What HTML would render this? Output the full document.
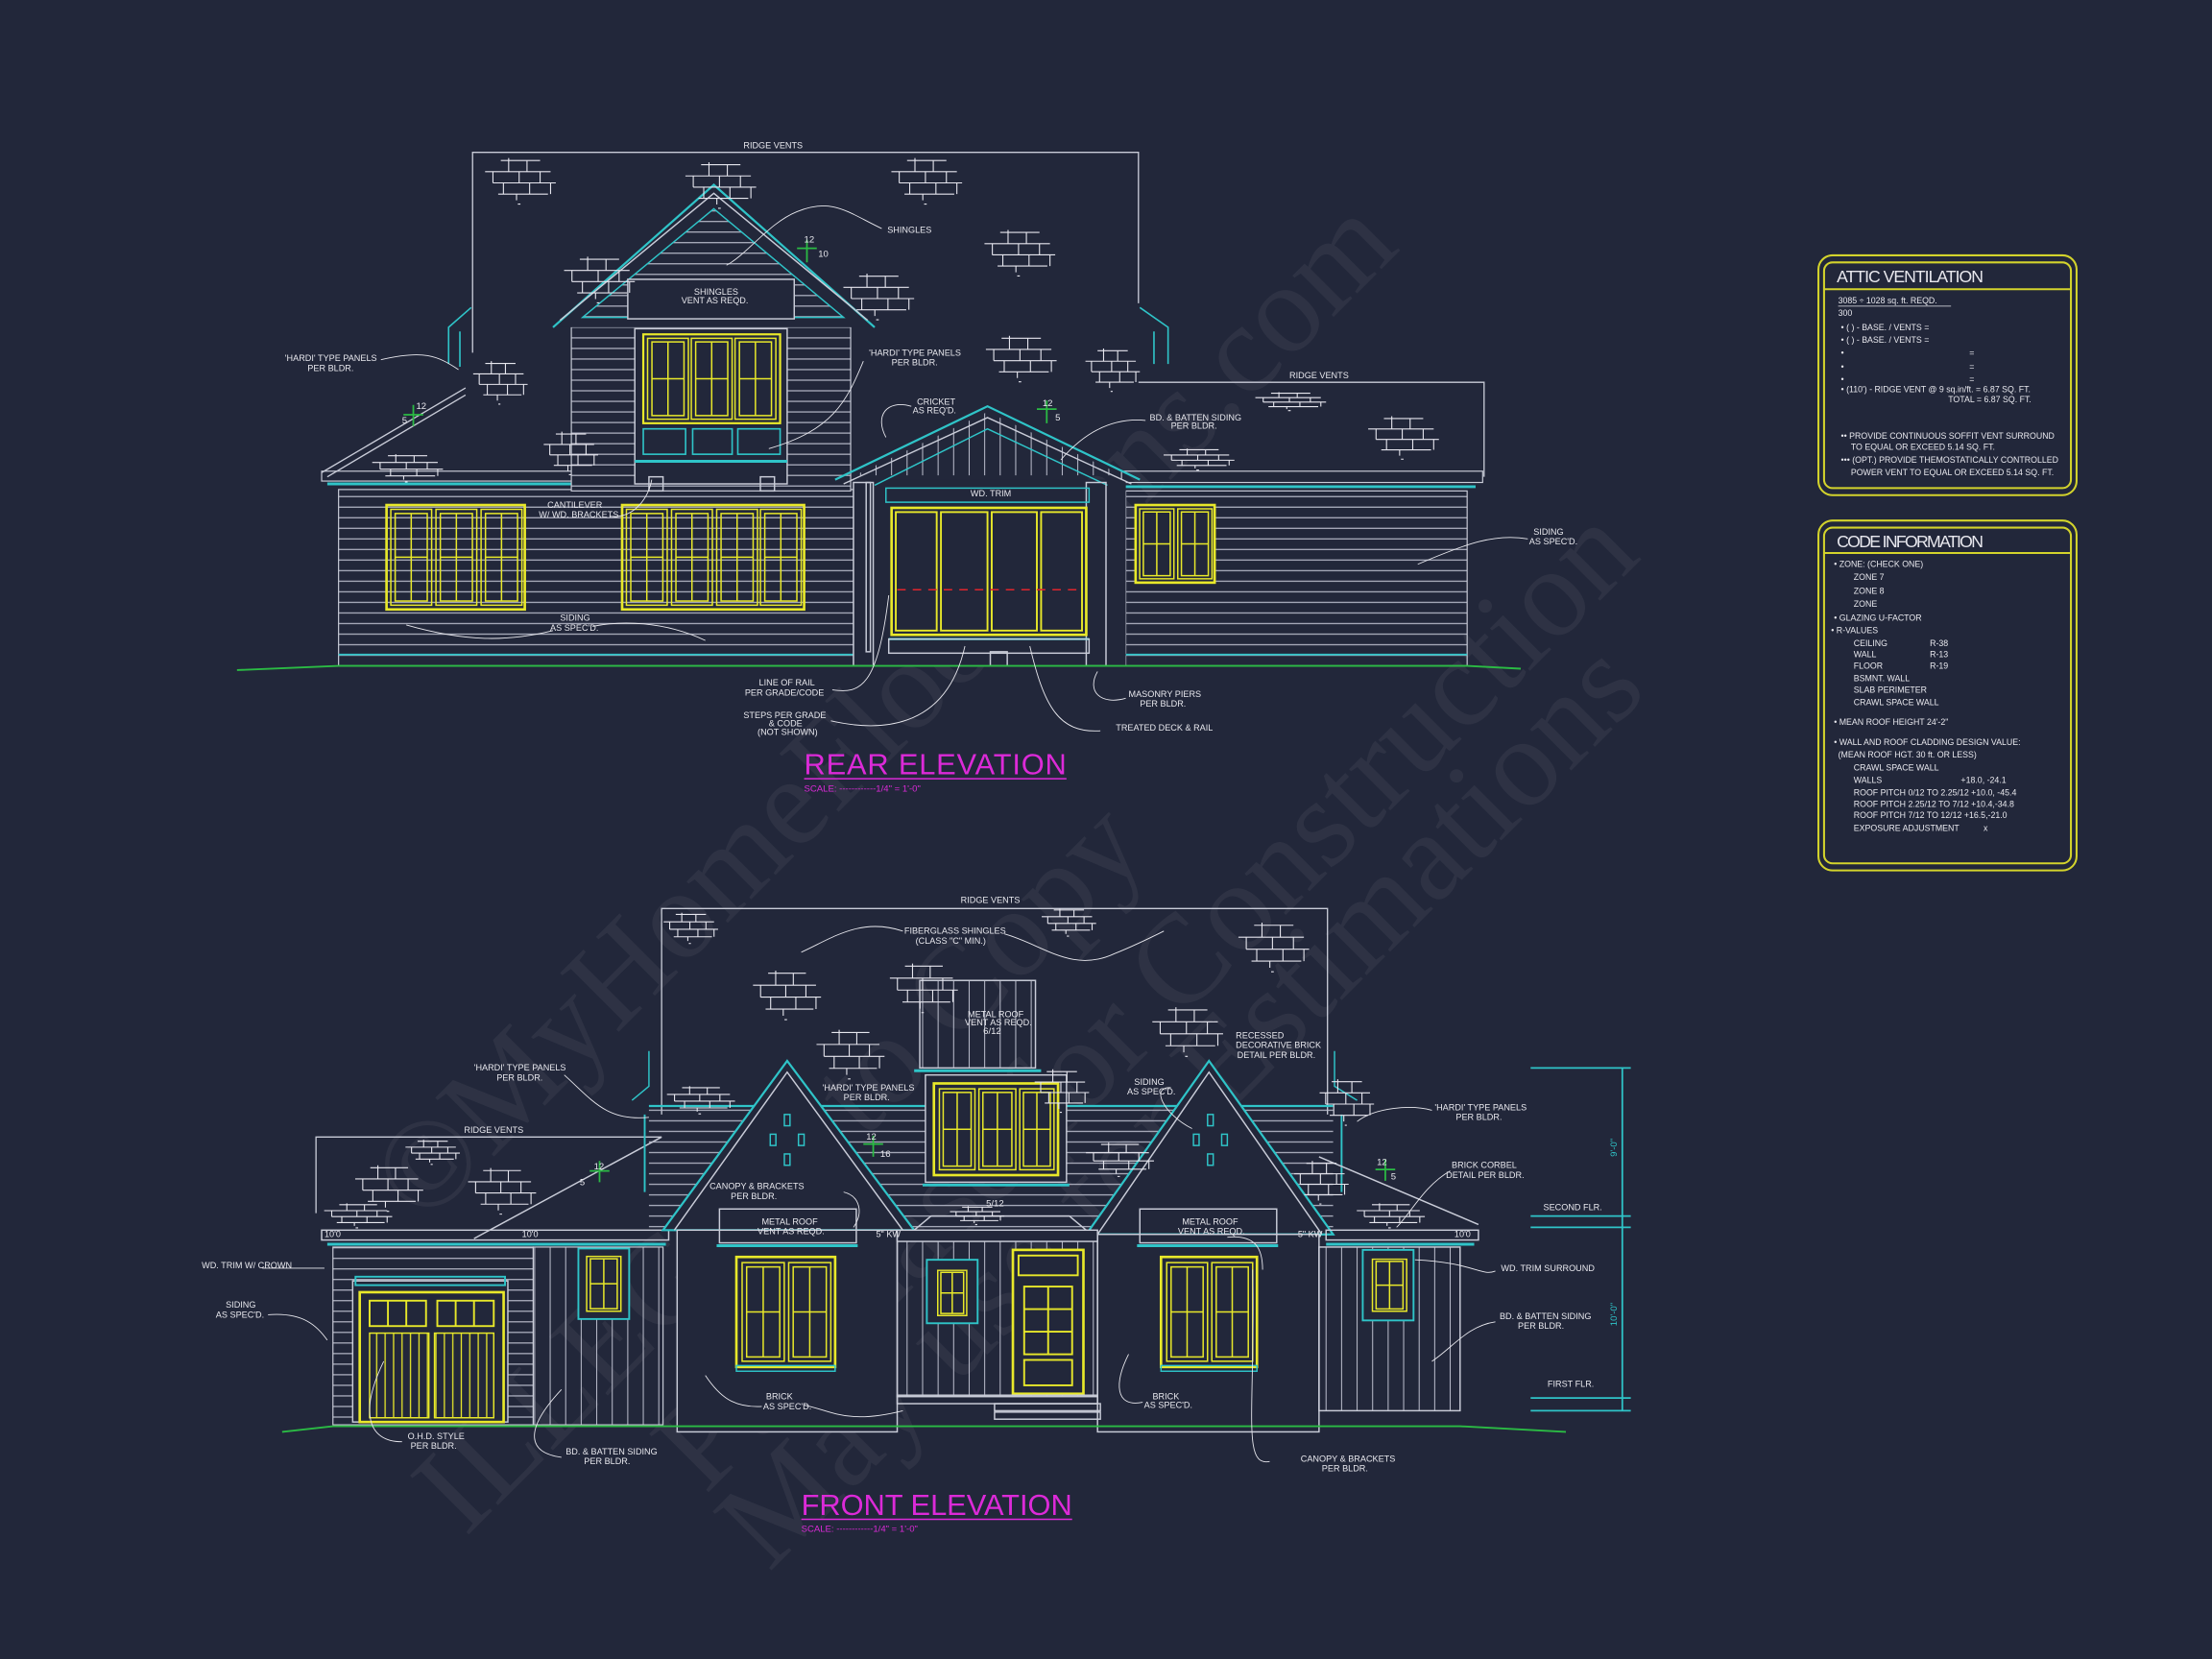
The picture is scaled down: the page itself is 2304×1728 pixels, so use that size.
<!DOCTYPE html>
<html><head><meta charset="utf-8"><style>
html,body{margin:0;padding:0;background:#22273a;}
svg{display:block}
text{font-family:"Liberation Sans",sans-serif;fill:#e8e8ee;}
text.wm{font-family:"Liberation Serif",serif;fill:#ffffff;fill-opacity:0.055;}
</style></head><body>
<svg width="2304" height="1728" viewBox="0 0 1568 1176" xmlns="http://www.w3.org/2000/svg">
<defs>
<pattern id="sid" width="10" height="7.5" patternUnits="userSpaceOnUse"><line x1="0" y1="7" x2="10" y2="7" stroke="#b9bccb" stroke-width="0.8"/></pattern>
<pattern id="bb" width="11" height="10" patternUnits="userSpaceOnUse"><line x1="5" y1="0" x2="5" y2="10" stroke="#b9bccb" stroke-width="0.7"/></pattern>
<pattern id="gv" width="6" height="10" patternUnits="userSpaceOnUse"><line x1="3" y1="0" x2="3" y2="10" stroke="#e6e62a" stroke-width="0.9"/></pattern>
<symbol id="br" viewBox="0 0 56 34" preserveAspectRatio="none" overflow="visible">
<g stroke="#e6e6ee" stroke-width="1.1" fill="none" vector-effect="non-scaling-stroke">
<path d="M14 2H44M2 11H52M8 20H56M12 29H50" vector-effect="non-scaling-stroke"/>
<path d="M20 0V11M34 2V11M8 11V20M28 11V20M44 11V20M16 20V29M36 20V29M52 20V29M26 29V34M27 37H29" vector-effect="non-scaling-stroke"/>
</g></symbol>
<symbol id="w" viewBox="0 0 30 70" preserveAspectRatio="none">
<g fill="none" stroke="#e8e82a" stroke-width="1.5">
<rect x="1" y="1" width="28" height="68" vector-effect="non-scaling-stroke"/><rect x="4" y="4" width="22" height="62" vector-effect="non-scaling-stroke"/>
<line x1="15" y1="4" x2="15" y2="66" vector-effect="non-scaling-stroke"/><line x1="4" y1="35" x2="26" y2="35" vector-effect="non-scaling-stroke"/></g></symbol>
</defs>
<rect width="1568" height="1176" fill="#22273a"/>

<!-- watermark -->
<text class="wm" font-size="90" transform="translate(300,870) rotate(-45)">©MyHomeFloorPlans.com</text>
<text class="wm" font-size="90" transform="translate(330,1090) rotate(-45)">ILLEGAL to Copy</text>
<text class="wm" font-size="90" transform="translate(500,1060) rotate(-45)">Purchase for Construction</text>
<text class="wm" font-size="90" transform="translate(545,1115) rotate(-45)">May use for Estimations</text>

<!-- ================= REAR ELEVATION ================= -->
<g stroke="#c9ccd8" stroke-width="0.9" fill="none">
<path d="M335 250V108H807V215"/>
<path d="M807 271H1052V338"/>
<path d="M228 335L330 275M232 338L330 280"/>
</g>
<rect x="240" y="347" width="365" height="125" fill="url(#sid)" stroke="#c9ccd8" stroke-width="0.8"/>
<rect x="228" y="334" width="240" height="7" fill="none" stroke="#c9ccd8" stroke-width="0.8"/>
<line x1="232" y1="343" x2="465" y2="343" stroke="#2fc4c8" stroke-width="2"/>
<line x1="240" y1="464" x2="605" y2="464" stroke="#2fc4c8" stroke-width="1.2"/>
<rect x="405" y="228" width="198" height="120" fill="#22273a"/>
<rect x="405" y="228" width="198" height="120" fill="url(#sid)" stroke="#c9ccd8" stroke-width="0.8"/>
<path d="M392 232L506 131L620 232" fill="#22273a" stroke="#2fc4c8" stroke-width="1.5"/>
<path d="M397 227L506 137L615 227" fill="none" stroke="#c9ccd8"/>
<path d="M413 225L506 148L598 225Z" fill="url(#sid)" stroke="#2fc4c8"/>
<rect x="445" y="198" width="118" height="28" fill="#22273a" stroke="#c9ccd8"/>
<rect x="450" y="233" width="108" height="110" fill="#22273a" stroke="#c9ccd8"/>
<rect x="456" y="237" width="97" height="63" fill="none" stroke="#e8e82a" stroke-width="1.5"/>
<use href="#w" x="458" y="239" width="31" height="59"/>
<use href="#w" x="489" y="239" width="31" height="59"/>
<use href="#w" x="520" y="239" width="31" height="59"/>
<g fill="none" stroke="#2fc4c8" stroke-width="1.1">
<rect x="456" y="304" width="30" height="18"/><rect x="491" y="304" width="28" height="18"/><rect x="523" y="304" width="30" height="18"/>
<line x1="450" y1="327" x2="558" y2="327" stroke-width="2"/>
<path d="M318 258V232L334 218M808 218L828 232V258"/>
<path d="M326 260V235M818 235V258"/>
</g>
<rect x="460" y="338" width="10" height="10" fill="none" stroke="#c9ccd8"/><rect x="539" y="338" width="10" height="10" fill="none" stroke="#c9ccd8"/>
<rect x="274" y="358" width="98" height="74" fill="none" stroke="#e8e82a" stroke-width="1.8"/>
<use href="#w" x="276" y="360" width="31" height="70"/><use href="#w" x="308" y="360" width="31" height="70"/><use href="#w" x="340" y="360" width="31" height="70"/>
<rect x="441" y="358" width="129" height="74" fill="none" stroke="#e8e82a" stroke-width="1.8"/>
<use href="#w" x="443" y="360" width="31" height="70"/><use href="#w" x="475" y="360" width="31" height="70"/><use href="#w" x="507" y="360" width="31" height="70"/><use href="#w" x="538" y="360" width="31" height="70"/>
<rect x="798" y="348" width="242" height="124" fill="url(#sid)" stroke="#c9ccd8" stroke-width="0.8"/>
<rect x="795" y="334" width="256" height="8" fill="none" stroke="#c9ccd8" stroke-width="0.8"/>
<line x1="798" y1="345" x2="1046" y2="345" stroke="#2fc4c8" stroke-width="2"/>
<line x1="798" y1="464" x2="1040" y2="464" stroke="#2fc4c8" stroke-width="1.2"/>
<rect x="805" y="358" width="56" height="55" fill="#22273a" stroke="#e8e82a" stroke-width="1.8"/>
<use href="#w" x="807" y="360" width="26" height="51"/><use href="#w" x="834" y="360" width="26" height="51"/>
<rect x="605" y="340" width="193" height="132" fill="#22273a"/>
<path d="M606 337L700 292L796 337Z" fill="url(#bb)"/>
<path d="M592 340L700 288L808 340" fill="none" stroke="#2fc4c8" stroke-width="1.5"/>
<path d="M598 343L700 296L802 343" fill="none" stroke="#c9ccd8"/>
<path d="M620 344L700 304L785 344" fill="none" stroke="#2fc4c8"/>
<rect x="605" y="342" width="14" height="130" fill="none" stroke="#c9ccd8"/><rect x="614" y="342" width="3" height="120" fill="none" stroke="#c9ccd8"/>
<rect x="770" y="342" width="14" height="130" fill="none" stroke="#c9ccd8"/>
<rect x="628" y="346" width="144" height="10" fill="none" stroke="#2fc4c8"/>
<rect x="632" y="360" width="138" height="90" fill="none" stroke="#e8e82a" stroke-width="1.8"/>
<g stroke="#e8e82a" stroke-width="1.3" fill="none"><rect x="635" y="363" width="29" height="84"/><rect x="667" y="363" width="33" height="84"/><rect x="703" y="363" width="32" height="84"/><rect x="738" y="363" width="29" height="84"/></g>
<line x1="636" y1="418" x2="766" y2="418" stroke="#e0242c" stroke-dasharray="6,5" stroke-width="1"/>
<line x1="630" y1="453" x2="772" y2="453" stroke="#2fc4c8" stroke-width="1.5"/>
<rect x="630" y="453" width="142" height="10" fill="none" stroke="#c9ccd8"/>
<rect x="702" y="462" width="12" height="10" fill="none" stroke="#c9ccd8"/>
<path d="M168 475L240 472H1040L1078 474" fill="none" stroke="#2bbb44" stroke-width="1.3"/>
<g stroke="#2bbb44" stroke-width="1.2"><path d="M286 294H300M293 287V302M565 176H579M572 170V186M735 290H749M742 284V300"/></g>
<g font-size="6.5"><text x="570" y="172">12</text><text x="580" y="182">10</text><text x="295" y="290">12</text><text x="285" y="300">5</text><text x="739" y="288">12</text><text x="748" y="298">5</text></g>
<use href="#br" x="342" y="112" width="52" height="30"/><use href="#br" x="484" y="115" width="52" height="30"/><use href="#br" x="630" y="112" width="52" height="30"/>
<use href="#br" x="696" y="163" width="52" height="30"/><use href="#br" x="596" y="194" width="52" height="30"/><use href="#br" x="398" y="182" width="52" height="30"/>
<use href="#br" x="697" y="238" width="52" height="30"/><use href="#br" x="334" y="256" width="40" height="28"/><use href="#br" x="384" y="306" width="40" height="28"/>
<use href="#br" x="262" y="322" width="52" height="18"/><use href="#br" x="768" y="247" width="40" height="28"/><use href="#br" x="968" y="295" width="52" height="28"/><use href="#br" x="888" y="278" width="52" height="12"/>
<use href="#br" x="823" y="318" width="52" height="14"/>
<g font-size="6.2">
<text x="527" y="105">RIDGE VENTS</text>
<text x="629" y="165">SHINGLES</text>
<text x="492" y="209">SHINGLES</text><text x="483" y="215">VENT AS REQD.</text>
<text x="202" y="256">'HARDI' TYPE PANELS</text><text x="218" y="263">PER BLDR.</text>
<text x="616" y="252">'HARDI' TYPE PANELS</text><text x="632" y="259">PER BLDR.</text>
<text x="650" y="287">CRICKET</text><text x="647" y="293">AS REQ'D.</text>
<text x="815" y="298">BD. &amp; BATTEN SIDING</text><text x="830" y="304">PER BLDR.</text>
<text x="914" y="268">RIDGE VENTS</text>
<text x="688" y="352">WD. TRIM</text>
<text x="388" y="360">CANTILEVER</text><text x="382" y="367">W/ WD. BRACKETS</text>
<text x="397" y="440">SIDING</text><text x="390" y="447">AS SPEC'D.</text>
<text x="1087" y="379">SIDING</text><text x="1084" y="386">AS SPEC'D.</text>
<text x="538" y="486">LINE OF RAIL</text><text x="528" y="493">PER GRADE/CODE</text>
<text x="527" y="509">STEPS PER GRADE</text><text x="545" y="515">&amp; CODE</text><text x="537" y="521">(NOT SHOWN)</text>
<text x="800" y="494">MASONRY PIERS</text><text x="808" y="501">PER BLDR.</text>
<text x="791" y="518">TREATED DECK &amp; RAIL</text>
</g>
<g fill="none" stroke="#e8e8ee" stroke-width="0.6">
<path d="M625 162C600 150 590 140 565 150 545 158 530 180 515 188"/>
<path d="M270 255C300 248 310 252 325 262"/>
<path d="M612 256C600 285 590 305 545 318"/>
<path d="M646 288C628 283 620 295 628 310"/>
<path d="M812 298C790 296 770 305 752 326"/>
<path d="M432 366C450 368 460 352 462 340"/>
<path d="M392 447C360 455 330 455 288 443M420 444C440 440 470 440 500 454"/>
<path d="M1083 382C1060 378 1040 385 1005 400"/>
<path d="M590 489C610 492 622 487 630 422"/>
<path d="M589 511C620 518 670 520 684 458"/>
<path d="M780 518C750 520 740 500 730 458"/>
<path d="M798 495C780 500 770 490 778 476"/>
</g>
<text x="570" y="549" font-size="21" style="fill:#dc2ad8" textLength="186">REAR ELEVATION</text>
<line x1="570" y1="552" x2="756" y2="552" stroke="#dc2ad8" stroke-width="1"/>
<text x="570" y="561" font-size="6.5" style="fill:#dc2ad8">SCALE: ------------1/4" = 1'-0"</text>

<!-- ================= FRONT ELEVATION ================= -->
<g stroke="#c9ccd8" stroke-width="0.9" fill="none">
<path d="M469 790V644H941V790"/>
<path d="M224 860V806H469"/>
</g>
<path d="M336 878L469 806" stroke="#c9ccd8" fill="none"/>
<rect x="228" y="872" width="246" height="7" fill="none" stroke="#c9ccd8"/>
<line x1="232" y1="882" x2="472" y2="882" stroke="#2fc4c8" stroke-width="2"/>
<rect x="236" y="884" width="142" height="126" fill="url(#sid)" stroke="#c9ccd8" stroke-width="0.8"/>
<rect x="378" y="884" width="92" height="126" fill="url(#bb)" stroke="#c9ccd8" stroke-width="0.8"/>
<rect x="250" y="908" width="110" height="100" fill="#22273a" stroke="#c9ccd8"/>
<rect x="252" y="905" width="106" height="6" fill="none" stroke="#2fc4c8" stroke-width="1.3"/>
<rect x="255" y="916" width="102" height="92" fill="none" stroke="#e8e82a" stroke-width="1.8"/>
<g stroke="#e8e82a" stroke-width="1.3" fill="none"><rect x="262" y="922" width="40" height="18"/><rect x="310" y="922" width="40" height="18"/><path d="M275 922V940M288 922V940M323 922V940M336 922V940"/></g>
<rect x="262" y="945" width="42" height="60" fill="url(#gv)" stroke="#e8e82a"/><rect x="308" y="945" width="42" height="60" fill="url(#gv)" stroke="#e8e82a"/>
<rect x="410" y="885" width="36" height="50" fill="#22273a" stroke="#2fc4c8" stroke-width="1.3"/>
<use href="#w" x="415" y="890" width="26" height="40"/>
<rect x="460" y="782" width="485" height="90" fill="url(#sid)"/>
<line x1="460" y1="784" x2="945" y2="784" stroke="#2fc4c8" stroke-width="1.5"/>
<path d="M448 780L460 770V745M946 745V770L962 780" stroke="#2fc4c8" fill="none"/>
<path d="M457 790V845M951 790V845" stroke="#2fc4c8" fill="none" stroke-width="1.3"/>
<rect x="652" y="695" width="82" height="62" fill="url(#bb)" stroke="#c9ccd8"/>
<line x1="648" y1="759" x2="738" y2="759" stroke="#2fc4c8" stroke-width="2"/>
<rect x="656" y="762" width="100" height="76" fill="#22273a" stroke="#c9ccd8"/>
<rect x="662" y="768" width="88" height="65" fill="none" stroke="#e8e82a" stroke-width="1.8"/>
<use href="#w" x="665" y="771" width="27" height="59"/><use href="#w" x="693" y="771" width="28" height="59"/><use href="#w" x="722" y="771" width="26" height="59"/>
<line x1="654" y1="840" x2="758" y2="840" stroke="#2fc4c8" stroke-width="2"/>
<path d="M470 872L558 752L648 872Z" fill="#22273a" stroke="#2fc4c8" stroke-width="1.5"/>
<path d="M478 872L558 760L640 872" fill="none" stroke="#c9ccd8"/>
<rect x="480" y="872" width="156" height="143" fill="#22273a" stroke="#c9ccd8"/>
<g fill="none" stroke="#2fc4c8"><rect x="556" y="790" width="4" height="8"/><rect x="546" y="804" width="4" height="8"/><rect x="566" y="804" width="4" height="8"/><rect x="556" y="818" width="4" height="8"/></g>
<rect x="510" y="857" width="97" height="24" fill="none" stroke="#c9ccd8"/>
<line x1="508" y1="883" x2="608" y2="883" stroke="#2fc4c8" stroke-width="2"/>
<rect x="522" y="891" width="70" height="78" fill="none" stroke="#e8e82a" stroke-width="1.8"/>
<use href="#w" x="525" y="894" width="32" height="72"/><use href="#w" x="558" y="894" width="32" height="72"/>
<rect x="522" y="968" width="70" height="4" fill="none" stroke="#2fc4c8"/>
<path d="M770 875L857 752L945 875Z" fill="#22273a" stroke="#2fc4c8" stroke-width="1.5"/>
<path d="M778 875L857 760L937 875" fill="none" stroke="#c9ccd8"/>
<rect x="778" y="875" width="157" height="140" fill="#22273a" stroke="#c9ccd8"/>
<g fill="none" stroke="#2fc4c8"><rect x="856" y="790" width="4" height="8"/><rect x="846" y="804" width="4" height="8"/><rect x="866" y="804" width="4" height="8"/><rect x="856" y="818" width="4" height="8"/></g>
<rect x="808" y="857" width="97" height="24" fill="none" stroke="#c9ccd8"/>
<line x1="806" y1="883" x2="906" y2="883" stroke="#2fc4c8" stroke-width="2"/>
<rect x="823" y="891" width="68" height="78" fill="none" stroke="#e8e82a" stroke-width="1.8"/>
<use href="#w" x="826" y="894" width="31" height="72"/><use href="#w" x="858" y="894" width="31" height="72"/>
<rect x="823" y="968" width="68" height="4" fill="none" stroke="#2fc4c8"/>
<path d="M648 872L660 862H758L770 872" fill="none" stroke="#c9ccd8"/>
<rect x="636" y="878" width="142" height="112" fill="url(#bb)" stroke="#c9ccd8"/>
<rect x="636" y="872" width="142" height="8" fill="#22273a" stroke="#c9ccd8"/>
<rect x="657" y="893" width="36" height="45" fill="#22273a" stroke="#2fc4c8" stroke-width="1.3"/>
<use href="#w" x="664" y="900" width="22" height="33"/>
<rect x="718" y="886" width="50" height="102" fill="#22273a" stroke="#e8e82a" stroke-width="1.8"/>
<g fill="none" stroke="#e8e82a" stroke-width="1.3"><rect x="722" y="890" width="42" height="14"/><rect x="726" y="912" width="34" height="48"/><path d="M743 912V960M726 928H760M726 944H760"/><rect x="726" y="964" width="34" height="18"/></g>
<rect x="636" y="989" width="142" height="6" fill="none" stroke="#c9ccd8"/>
<rect x="705" y="995" width="75" height="5" fill="none" stroke="#c9ccd8"/><rect x="705" y="1001" width="75" height="5" fill="none" stroke="#c9ccd8"/>
<path d="M935 820L1048 868" stroke="#c9ccd8" fill="none"/>
<rect x="940" y="872" width="108" height="7" fill="none" stroke="#c9ccd8"/>
<line x1="940" y1="882" x2="1045" y2="882" stroke="#2fc4c8" stroke-width="2"/>
<rect x="935" y="884" width="100" height="116" fill="url(#bb)" stroke="#c9ccd8"/>
<rect x="966" y="886" width="36" height="50" fill="#22273a" stroke="#2fc4c8" stroke-width="1.3"/>
<use href="#w" x="972" y="892" width="26" height="38"/>
<path d="M200 1015L236 1011H1035L1110 1015" fill="none" stroke="#2bbb44" stroke-width="1.3"/>
<g stroke="#2fc4c8" stroke-width="1.2" fill="none">
<path d="M1150 757V1000M1085 757H1156M1085 862H1156M1085 870H1156M1085 991H1156M1085 1000H1156"/>
</g>
<text transform="translate(1146,820) rotate(-90)" font-size="6.5" style="fill:#2fc4c8">9'-0"</text><text transform="translate(1146,940) rotate(-90)" font-size="6.5" style="fill:#2fc4c8">10'-0"</text>
<g stroke="#2bbb44" stroke-width="1.2"><path d="M418 830H432M425 823V838M612 811H626M619 805V820M975 829H989M982 822V837"/></g>
<g font-size="6.5"><text x="421" y="829">12</text><text x="411" y="840">5</text><text x="614" y="808">12</text><text x="624" y="820">16</text><text x="976" y="826">12</text><text x="986" y="836">5</text><text x="699" y="855">5/12</text><text x="697" y="733">6/12</text></g>
<use href="#br" x="469" y="647" width="40" height="20"/><use href="#br" x="737" y="644" width="40" height="18"/><use href="#br" x="876" y="654" width="52" height="32"/>
<use href="#br" x="532" y="688" width="50" height="32"/><use href="#br" x="629" y="683" width="50" height="32"/><use href="#br" x="577" y="730" width="50" height="32"/>
<use href="#br" x="815" y="714" width="52" height="32"/><use href="#br" x="732" y="758" width="40" height="28"/><use href="#br" x="471" y="770" width="50" height="18"/>
<use href="#br" x="768" y="810" width="50" height="22"/><use href="#br" x="250" y="826" width="50" height="30"/><use href="#br" x="228" y="853" width="50" height="16"/><use href="#br" x="330" y="828" width="50" height="30"/><use href="#br" x="672" y="855" width="40" height="12"/><use href="#br" x="960" y="853" width="50" height="16"/><use href="#br" x="934" y="765" width="40" height="30"/><use href="#br" x="916" y="823" width="40" height="28"/>
<use href="#br" x="286" y="808" width="40" height="16"/>
<g font-size="6.2">
<text x="681" y="640">RIDGE VENTS</text>
<text x="641" y="662">FIBERGLASS SHINGLES</text><text x="649" y="669">(CLASS "C" MIN.)</text>
<text x="686" y="721">METAL ROOF</text><text x="684" y="727">VENT AS REQD.</text>
<text x="876" y="736">RECESSED</text><text x="876" y="743">DECORATIVE BRICK</text><text x="877" y="750">DETAIL PER BLDR.</text>
<text x="336" y="759">'HARDI' TYPE PANELS</text><text x="352" y="766">PER BLDR.</text>
<text x="583" y="773">'HARDI' TYPE PANELS</text><text x="598" y="780">PER BLDR.</text>
<text x="804" y="769">SIDING</text><text x="799" y="776">AS SPEC'D.</text>
<text x="1017" y="787">'HARDI' TYPE PANELS</text><text x="1032" y="794">PER BLDR.</text>
<text x="329" y="803">RIDGE VENTS</text>
<text x="503" y="843">CANOPY &amp; BRACKETS</text><text x="518" y="850">PER BLDR.</text>
<text x="1029" y="828">BRICK CORBEL</text><text x="1025" y="835">DETAIL PER BLDR.</text>
<text x="540" y="868">METAL ROOF</text><text x="537" y="875">VENT AS REQD.</text>
<text x="838" y="868">METAL ROOF</text><text x="835" y="875">VENT AS REQD.</text>
<text x="621" y="877">5" KW</text><text x="920" y="877">5" KW</text>
<text x="1094" y="858">SECOND FLR.</text><text x="1097" y="983">FIRST FLR.</text>
<text x="230" y="877">10'0</text><text x="370" y="877">10'0</text><text x="1031" y="877">10'0</text>
<text x="143" y="899">WD. TRIM W/ CROWN</text>
<text x="160" y="927">SIDING</text><text x="153" y="934">AS SPEC'D.</text>
<text x="1064" y="901">WD. TRIM SURROUND</text>
<text x="1063" y="935">BD. &amp; BATTEN SIDING</text><text x="1076" y="942">PER BLDR.</text>
<text x="543" y="992">BRICK</text><text x="541" y="999">AS SPEC'D.</text>
<text x="817" y="992">BRICK</text><text x="811" y="998">AS SPEC'D.</text>
<text x="289" y="1020">O.H.D. STYLE</text><text x="291" y="1027">PER BLDR.</text>
<text x="401" y="1031">BD. &amp; BATTEN SIDING</text><text x="414" y="1038">PER BLDR.</text>
<text x="922" y="1036">CANOPY &amp; BRACKETS</text><text x="937" y="1043">PER BLDR.</text>
</g>
<g fill="none" stroke="#e8e8ee" stroke-width="0.6">
<path d="M640 660C610 650 590 665 568 675M712 662C740 670 760 690 790 676 805 670 815 665 825 660"/>
<path d="M400 762C420 780 430 795 460 792"/>
<path d="M1015 787C1000 783 975 785 962 795"/>
<path d="M186 899H230"/><path d="M190 932C215 930 225 940 232 950"/>
<path d="M1060 901C1050 905 1045 895 1003 893"/>
<path d="M1060 937C1040 940 1030 955 1015 965"/>
<path d="M540 997C520 998 510 990 500 975M570 996C590 1000 600 1010 640 1000"/>
<path d="M810 994C790 998 790 980 800 960"/>
<path d="M870 877C890 875 895 885 895 900M900 1036C880 1040 890 1000 888 900"/>
<path d="M285 1022C260 1022 255 1000 272 965"/>
<path d="M398 1033C375 1030 370 1015 398 985"/>
<path d="M598 845C610 848 612 860 605 870"/>
<path d="M1028 830C1010 840 1000 860 990 870"/>
<path d="M830 771C815 770 825 790 845 800"/>
</g>
<text x="568" y="1074" font-size="21" style="fill:#dc2ad8" textLength="192">FRONT ELEVATION</text>
<line x1="568" y1="1077" x2="760" y2="1077" stroke="#dc2ad8" stroke-width="1"/>
<text x="568" y="1086" font-size="6.5" style="fill:#dc2ad8">SCALE: ------------1/4" = 1'-0"</text>

<!-- ================= TABLES ================= -->
<g fill="none" stroke="#d3d32c" stroke-width="1.4">
<rect x="1289" y="181" width="183" height="170" rx="10"/>
<rect x="1293" y="186" width="175" height="160" rx="6"/>
<line x1="1293" y1="205" x2="1468" y2="205"/>
<rect x="1289" y="369" width="183" height="248" rx="10"/>
<rect x="1293" y="374" width="175" height="238" rx="6"/>
<line x1="1293" y1="392" x2="1468" y2="392"/>
</g>
<text x="1302" y="200" font-size="12" textLength="104">ATTIC VENTILATION</text>
<text x="1302" y="388" font-size="12" textLength="104">CODE INFORMATION</text>
<g font-size="6">
<text x="1303" y="215">3085 ÷ 1028 sq. ft. REQD.</text>
<line x1="1303" y1="217" x2="1383" y2="217" stroke="#e8e8ee" stroke-width="0.5"/>
<text x="1303" y="224">300</text>
<text x="1305" y="234">• (    ) -          BASE.    /    VENTS    =</text>
<text x="1305" y="243">• (    ) -          BASE.    /    VENTS    =</text>
<text x="1305" y="252">•</text><text x="1396" y="252">=</text>
<text x="1305" y="262">•</text><text x="1396" y="262">=</text>
<text x="1305" y="271">•</text><text x="1396" y="271">=</text>
<text x="1305" y="278">• (110') - RIDGE VENT @ 9 sq.in/ft.  = 6.87 SQ. FT.</text>
<text x="1381" y="285">TOTAL        = 6.87 SQ. FT.</text>
<text x="1305" y="311">•• PROVIDE CONTINUOUS SOFFIT VENT SURROUND</text>
<text x="1312" y="319">TO EQUAL OR EXCEED  5.14 SQ. FT.</text>
<text x="1305" y="328">••• (OPT.) PROVIDE THEMOSTATICALLY CONTROLLED</text>
<text x="1312" y="337">POWER VENT TO EQUAL OR EXCEED 5.14 SQ. FT.</text>
<text x="1300" y="402">• ZONE: (CHECK ONE)</text>
<text x="1314" y="411">ZONE 7</text><text x="1314" y="421">ZONE 8</text><text x="1314" y="430">ZONE</text>
<text x="1300" y="440">• GLAZING U-FACTOR</text>
<text x="1298" y="449">• R-VALUES</text>
<text x="1314" y="458">CEILING</text><text x="1368" y="458">R-38</text>
<text x="1314" y="466">WALL</text><text x="1368" y="466">R-13</text>
<text x="1314" y="474">FLOOR</text><text x="1368" y="474">R-19</text>
<text x="1314" y="483">BSMNT. WALL</text><text x="1314" y="491">SLAB PERIMETER</text><text x="1314" y="500">CRAWL SPACE WALL</text>
<text x="1300" y="514">• MEAN ROOF HEIGHT  24'-2"</text>
<text x="1300" y="528">• WALL AND ROOF CLADDING DESIGN VALUE:</text>
<text x="1303" y="537">(MEAN ROOF HGT. 30 ft. OR LESS)</text>
<text x="1314" y="546">CRAWL SPACE WALL</text>
<text x="1314" y="555">WALLS</text><text x="1390" y="555">+18.0, -24.1</text>
<text x="1314" y="564">ROOF PITCH 0/12 TO 2.25/12   +10.0, -45.4</text>
<text x="1314" y="572">ROOF PITCH 2.25/12 TO 7/12   +10.4,-34.8</text>
<text x="1314" y="580">ROOF PITCH 7/12 TO 12/12     +16.5,-21.0</text>
<text x="1314" y="589">EXPOSURE ADJUSTMENT</text><text x="1406" y="589">x</text>
</g>
</svg>
</body></html>
